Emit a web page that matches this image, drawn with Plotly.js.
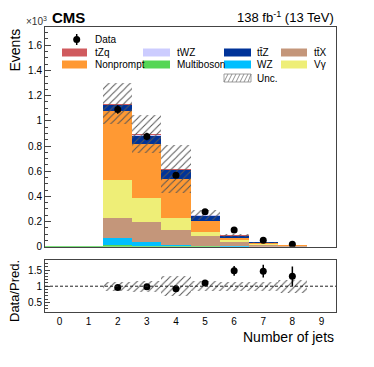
<!DOCTYPE html>
<html>
<head>
<meta charset="utf-8">
<script src="https://cdn.plot.ly/plotly-3.0.1.min.js"></script>
<style>
  body { margin: 0; background: #fff; }
  #graph { width: 374px; height: 367px; }
</style>
</head>
<body>
<div id="graph"></div>
<script>
// number of jets bins
const bins = [0, 1, 2, 3, 4, 5, 6, 7, 8, 9];

// stacked predictions, x10^3 events (bottom to top)
const multiboson = [0.002, 0.002, 0.010, 0.006, 0.004, 0.002, 0.001, 0, 0, 0];
const wz         = [0, 0, 0.060, 0.034, 0.009, 0.003, 0.001, 0.0005, 0, 0];
const ttx        = [0, 0, 0.155, 0.154, 0.117, 0.080, 0.038, 0.014, 0.005, 0];
const vgamma     = [0, 0, 0.305, 0.192, 0.100, 0.029, 0.010, 0.004, 0.001, 0];
const nonprompt  = [0, 0, 0.550, 0.429, 0.310, 0.092, 0.016, 0.0115, 0.007, 0];
const ttz        = [0, 0, 0.045, 0.066, 0.069, 0.042, 0.021, 0.004, 0.001, 0];
const twz        = [0, 0, 0.003, 0.003, 0.002, 0.001, 0.001, 0.0005, 0, 0];
const tzq        = [0, 0, 0.008, 0.010, 0.006, 0.004, 0.002, 0.001, 0.0005, 0];

// observed data and uncertainties
const data    = [null, null, 1.090, 0.876, 0.567, 0.278, 0.133, 0.052, 0.019, null];
const dataErr = [0, 0, 0.033, 0.030, 0.024, 0.017, 0.0135, 0.007, 0.0044, 0];
const unc     = [0, 0, 0.165, 0.150, 0.190, 0.037, 0.012, 0.005, 0.003, 0];

const procs = [
  {name: 'Multiboson', vals: multiboson, color: '#55d655'},
  {name: 'WZ',         vals: wz,         color: '#00bfff'},
  {name: 't\u0074\u0304X', vals: ttx,    color: '#c4967a'},
  {name: 'V\u03b3',    vals: vgamma,     color: '#eeee77'},
  {name: 'Nonprompt',  vals: nonprompt,  color: '#ff9933'},
  {name: 't\u0074\u0304Z', vals: ttz,    color: '#003399'},
  {name: 'tWZ',        vals: twz,        color: '#ccccff'},
  {name: 'tZq',        vals: tzq,        color: '#d05a5e'}
];

const traces = [];
let base = bins.map(() => 0);
procs.forEach(p => {
  traces.push({
    type: 'bar', x: bins, y: p.vals, base: base.slice(), width: 1,
    marker: {color: p.color, line: {width: 0}},
    xaxis: 'x', yaxis: 'y', showlegend: false, hoverinfo: 'skip'
  });
  base = base.map((b, i) => b + p.vals[i]);
});
const total = base;

const hatch = {shape: '/', fgcolor: '#555', bgcolor: 'rgba(0,0,0,0)', size: 5, solidity: 0.2};

// uncertainty band, upper panel
traces.push({
  type: 'bar', x: bins, y: unc.map(u => 2 * u), base: total.map((t, i) => t - unc[i]), width: 1,
  marker: {color: 'rgba(0,0,0,0)', line: {width: 0}, pattern: hatch},
  xaxis: 'x', yaxis: 'y', showlegend: false, hoverinfo: 'skip'
});

traces.push({
  type: 'scatter', mode: 'markers', x: bins, y: data,
  error_y: {type: 'data', array: dataErr, color: '#000', thickness: 1.5, width: 0},
  marker: {color: '#000', size: 7},
  xaxis: 'x', yaxis: 'y', showlegend: false, hoverinfo: 'skip'
});

// ratio panel
const relUnc = unc.map((u, i) => total[i] > 0 ? u / total[i] : 0);
traces.push({
  type: 'bar', x: bins, y: relUnc.map(r => 2 * r), base: relUnc.map(r => 1 - r), width: 1,
  marker: {color: 'rgba(0,0,0,0)', line: {width: 0}, pattern: hatch},
  xaxis: 'x2', yaxis: 'y2', showlegend: false, hoverinfo: 'skip'
});
traces.push({
  type: 'scatter', mode: 'markers', x: bins,
  y: data.map((d, i) => d == null ? null : d / total[i]),
  error_y: {type: 'data', array: dataErr.map((e, i) => total[i] > 0 ? e / total[i] : 0), color: '#000', thickness: 1.5, width: 0},
  marker: {color: '#000', size: 7},
  xaxis: 'x2', yaxis: 'y2', showlegend: false, hoverinfo: 'skip'
});

// pixel -> paper helpers (plot area 45..336 x 27..312)
const px = v => (v - 45) / 291;
const py = v => (312 - v) / 285;

const shapes = [
  {type: 'line', xref: 'x2', yref: 'y2', x0: -0.5, x1: 9.5, y0: 1, y1: 1,
   line: {color: '#222', width: 1, dash: '3px,2px'}}
];
const annotations = [];
const txt = (text, x, y, opts) => Object.assign({
  text: text, xref: 'paper', yref: 'paper', x: x, y: y, showarrow: false,
  xanchor: 'left', yanchor: 'middle', font: {size: 10, color: '#000'}
}, opts || {});

// legend
const cols = [[62, 87, 93], [143, 170, 175], [224, 251, 255], [281, 307, 312]];
const rows = [52.5, 64.5, 78];
const legendItems = [
  ['tZq', 0, 0], ['tWZ', 1, 0], ['t\u0074\u0304Z', 2, 0], ['t\u0074\u0304X', 3, 0],
  ['Nonprompt', 0, 1], ['Multiboson', 1, 1], ['WZ', 2, 1], ['V\u03b3', 3, 1]
];
legendItems.forEach(([name, c, r]) => {
  const p = procs.find(q => q.name === name);
  shapes.push({type: 'rect', xref: 'paper', yref: 'paper',
    x0: px(cols[c][0]), x1: px(cols[c][1]), y0: py(rows[r] - 4), y1: py(rows[r] + 4),
    fillcolor: p.color, line: {width: 0}});
  annotations.push(txt(name, px(cols[c][2]), py(rows[r])));
});
// Unc. swatch
shapes.push({type: 'rect', xref: 'paper', yref: 'paper',
  x0: px(224), x1: px(251), y0: py(74), y1: py(82), line: {color: '#888', width: 0.8}});
for (let k = 0; k < 7; k++) {
  const x0 = 224 + k * 4;
  shapes.push({type: 'line', xref: 'paper', yref: 'paper',
    x0: px(x0), x1: px(Math.min(x0 + 4, 251)), y0: py(82), y1: py(74),
    line: {color: '#777', width: 0.8}});
}
annotations.push(txt('Unc.', px(255), py(78)));
// Data entry
shapes.push({type: 'line', xref: 'paper', yref: 'paper', x0: px(76.7), x1: px(76.7),
  y0: py(34), y1: py(45), line: {color: '#000', width: 1.5}});
shapes.push({type: 'circle', xref: 'paper', yref: 'paper', x0: px(73.2), x1: px(80.2),
  y0: py(36), y1: py(43), fillcolor: '#000', line: {width: 0}});
annotations.push(txt('Data', px(93), py(39.5)));

// titles and labels
annotations.push(txt('<b>CMS</b>', px(50), py(18), {font: {size: 15, color: '#000'}}));
annotations.push(txt('138 fb<sup>-1</sup> (13 TeV)', 1, py(17), {xanchor: 'right', font: {size: 13, color: '#000'}}));
annotations.push(txt('\u00d710<sup>3</sup>', px(24), py(21), {font: {size: 10, color: '#333'}}));
annotations.push(txt('Events', px(14), 1, {xanchor: 'center', yanchor: 'top', textangle: -90, font: {size: 14, color: '#000'}}));
annotations.push(txt('Data/Pred.', px(14), py(291), {xanchor: 'center', textangle: -90, font: {size: 13, color: '#000'}}));
annotations.push(txt('Number of jets', 1, py(337), {xanchor: 'right', font: {size: 14, color: '#000'}}));

const frame = {showline: true, linecolor: '#444', linewidth: 1, mirror: true, zeroline: false, showgrid: false};

const layout = {
  width: 374, height: 367,
  margin: {l: 45, r: 38, t: 27, b: 55},
  paper_bgcolor: '#fff', plot_bgcolor: '#fff',
  font: {family: 'Liberation Sans, Arial, sans-serif', size: 10, color: '#000'},
  barmode: 'overlay', bargap: 0,
  showlegend: false,
  xaxis: Object.assign({}, frame, {range: [-0.5, 9.5], anchor: 'y', showticklabels: false, ticks: ''}),
  yaxis: Object.assign({}, frame, {domain: [0.229, 1], range: [0, 1.745], anchor: 'x',
    dtick: 0.2, ticks: 'inside', ticklen: 6, tickcolor: '#444',
    minor: {dtick: 0.05, ticks: 'inside', ticklen: 3, tickcolor: '#444'}}),
  xaxis2: Object.assign({}, frame, {range: [-0.5, 9.5], anchor: 'y2', matches: 'x',
    dtick: 1, ticks: '', ticklabelstandoff: 0}),
  yaxis2: Object.assign({}, frame, {domain: [0, 0.181], range: [0.2, 1.8], anchor: 'x2',
    tickvals: [0.5, 1, 1.5], ticks: 'inside', ticklen: 5, tickcolor: '#444',
    minor: {dtick: 0.1, ticks: 'inside', ticklen: 3, tickcolor: '#444'}}),
  shapes: shapes,
  annotations: annotations
};

Plotly.newPlot('graph', traces, layout, {displayModeBar: false, staticPlot: true});
</script>
</body>
</html>
